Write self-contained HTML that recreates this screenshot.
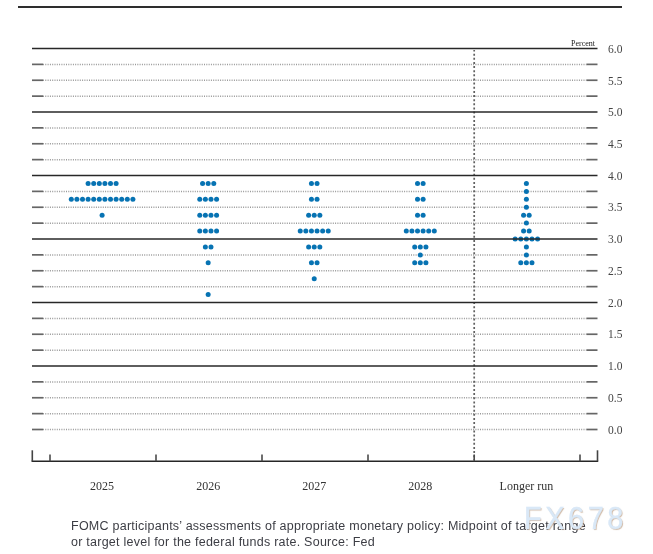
<!DOCTYPE html>
<html><head><meta charset="utf-8"><style>
html,body{margin:0;padding:0;background:#fff;}
body{width:653px;height:554px;position:relative;overflow:hidden;}
svg{position:absolute;left:0;top:0;}
*{-webkit-font-smoothing:antialiased;}
.cap,.wm,svg{will-change:transform;}
.yl{font-family:"Liberation Serif",serif;font-size:11.5px;fill:#444;}
.xl{font-family:"Liberation Serif",serif;font-size:12px;fill:#333;text-anchor:middle;}
.pc{font-family:"Liberation Serif",serif;font-size:8px;fill:#1a1a1a;text-anchor:end;}
circle{fill:#0773b3;}
.cap{position:absolute;left:70.6px;top:518px;width:600px;font-family:"Liberation Sans",sans-serif;font-size:12.5px;letter-spacing:0.245px;line-height:16px;color:#3c3d44;white-space:nowrap;}
.wm{position:absolute;left:524px;top:500px;font-family:"Liberation Sans",sans-serif;font-size:29px;letter-spacing:3.5px;color:#d9e8f7;-webkit-text-stroke:0.35px #d9e8f7;text-shadow:1px 1px 0.8px rgba(170,130,95,0.55);line-height:34px;transform:scaleY(1.1);transform-origin:0 7px;}
</style></head><body>
<svg width="653" height="554" viewBox="0 0 653 554">
<line x1="18" y1="7" x2="622" y2="7" stroke="#2e2e2e" stroke-width="1.8"/>
<text x="608" y="52.7" class="yl">6.0</text>
<line x1="43" y1="64.375" x2="586.5" y2="64.375" stroke="#9a9a9a" stroke-width="1.5" stroke-dasharray="1 1.3"/>
<line x1="32" y1="64.375" x2="43" y2="64.375" stroke="#666" stroke-width="1.7"/>
<line x1="586.5" y1="64.375" x2="597.5" y2="64.375" stroke="#666" stroke-width="1.7"/>
<line x1="43" y1="80.25" x2="586.5" y2="80.25" stroke="#9a9a9a" stroke-width="1.5" stroke-dasharray="1 1.3"/>
<line x1="32" y1="80.25" x2="43" y2="80.25" stroke="#666" stroke-width="1.7"/>
<line x1="586.5" y1="80.25" x2="597.5" y2="80.25" stroke="#666" stroke-width="1.7"/>
<text x="608" y="84.5" class="yl">5.5</text>
<line x1="43" y1="96.125" x2="586.5" y2="96.125" stroke="#9a9a9a" stroke-width="1.5" stroke-dasharray="1 1.3"/>
<line x1="32" y1="96.125" x2="43" y2="96.125" stroke="#666" stroke-width="1.7"/>
<line x1="586.5" y1="96.125" x2="597.5" y2="96.125" stroke="#666" stroke-width="1.7"/>
<text x="608" y="116.2" class="yl">5.0</text>
<line x1="43" y1="127.875" x2="586.5" y2="127.875" stroke="#9a9a9a" stroke-width="1.5" stroke-dasharray="1 1.3"/>
<line x1="32" y1="127.875" x2="43" y2="127.875" stroke="#666" stroke-width="1.7"/>
<line x1="586.5" y1="127.875" x2="597.5" y2="127.875" stroke="#666" stroke-width="1.7"/>
<line x1="43" y1="143.75" x2="586.5" y2="143.75" stroke="#9a9a9a" stroke-width="1.5" stroke-dasharray="1 1.3"/>
<line x1="32" y1="143.75" x2="43" y2="143.75" stroke="#666" stroke-width="1.7"/>
<line x1="586.5" y1="143.75" x2="597.5" y2="143.75" stroke="#666" stroke-width="1.7"/>
<text x="608" y="147.9" class="yl">4.5</text>
<line x1="43" y1="159.625" x2="586.5" y2="159.625" stroke="#9a9a9a" stroke-width="1.5" stroke-dasharray="1 1.3"/>
<line x1="32" y1="159.625" x2="43" y2="159.625" stroke="#666" stroke-width="1.7"/>
<line x1="586.5" y1="159.625" x2="597.5" y2="159.625" stroke="#666" stroke-width="1.7"/>
<text x="608" y="179.7" class="yl">4.0</text>
<line x1="43" y1="191.375" x2="586.5" y2="191.375" stroke="#9a9a9a" stroke-width="1.5" stroke-dasharray="1 1.3"/>
<line x1="32" y1="191.375" x2="43" y2="191.375" stroke="#666" stroke-width="1.7"/>
<line x1="586.5" y1="191.375" x2="597.5" y2="191.375" stroke="#666" stroke-width="1.7"/>
<line x1="43" y1="207.25" x2="586.5" y2="207.25" stroke="#9a9a9a" stroke-width="1.5" stroke-dasharray="1 1.3"/>
<line x1="32" y1="207.25" x2="43" y2="207.25" stroke="#666" stroke-width="1.7"/>
<line x1="586.5" y1="207.25" x2="597.5" y2="207.25" stroke="#666" stroke-width="1.7"/>
<text x="608" y="211.4" class="yl">3.5</text>
<line x1="43" y1="223.125" x2="586.5" y2="223.125" stroke="#9a9a9a" stroke-width="1.5" stroke-dasharray="1 1.3"/>
<line x1="32" y1="223.125" x2="43" y2="223.125" stroke="#666" stroke-width="1.7"/>
<line x1="586.5" y1="223.125" x2="597.5" y2="223.125" stroke="#666" stroke-width="1.7"/>
<text x="608" y="243.2" class="yl">3.0</text>
<line x1="43" y1="254.875" x2="586.5" y2="254.875" stroke="#9a9a9a" stroke-width="1.5" stroke-dasharray="1 1.3"/>
<line x1="32" y1="254.875" x2="43" y2="254.875" stroke="#666" stroke-width="1.7"/>
<line x1="586.5" y1="254.875" x2="597.5" y2="254.875" stroke="#666" stroke-width="1.7"/>
<line x1="43" y1="270.75" x2="586.5" y2="270.75" stroke="#9a9a9a" stroke-width="1.5" stroke-dasharray="1 1.3"/>
<line x1="32" y1="270.75" x2="43" y2="270.75" stroke="#666" stroke-width="1.7"/>
<line x1="586.5" y1="270.75" x2="597.5" y2="270.75" stroke="#666" stroke-width="1.7"/>
<text x="608" y="274.9" class="yl">2.5</text>
<line x1="43" y1="286.625" x2="586.5" y2="286.625" stroke="#9a9a9a" stroke-width="1.5" stroke-dasharray="1 1.3"/>
<line x1="32" y1="286.625" x2="43" y2="286.625" stroke="#666" stroke-width="1.7"/>
<line x1="586.5" y1="286.625" x2="597.5" y2="286.625" stroke="#666" stroke-width="1.7"/>
<text x="608" y="306.7" class="yl">2.0</text>
<line x1="43" y1="318.375" x2="586.5" y2="318.375" stroke="#9a9a9a" stroke-width="1.5" stroke-dasharray="1 1.3"/>
<line x1="32" y1="318.375" x2="43" y2="318.375" stroke="#666" stroke-width="1.7"/>
<line x1="586.5" y1="318.375" x2="597.5" y2="318.375" stroke="#666" stroke-width="1.7"/>
<line x1="43" y1="334.25" x2="586.5" y2="334.25" stroke="#9a9a9a" stroke-width="1.5" stroke-dasharray="1 1.3"/>
<line x1="32" y1="334.25" x2="43" y2="334.25" stroke="#666" stroke-width="1.7"/>
<line x1="586.5" y1="334.25" x2="597.5" y2="334.25" stroke="#666" stroke-width="1.7"/>
<text x="608" y="338.4" class="yl">1.5</text>
<line x1="43" y1="350.125" x2="586.5" y2="350.125" stroke="#9a9a9a" stroke-width="1.5" stroke-dasharray="1 1.3"/>
<line x1="32" y1="350.125" x2="43" y2="350.125" stroke="#666" stroke-width="1.7"/>
<line x1="586.5" y1="350.125" x2="597.5" y2="350.125" stroke="#666" stroke-width="1.7"/>
<text x="608" y="370.2" class="yl">1.0</text>
<line x1="43" y1="381.875" x2="586.5" y2="381.875" stroke="#9a9a9a" stroke-width="1.5" stroke-dasharray="1 1.3"/>
<line x1="32" y1="381.875" x2="43" y2="381.875" stroke="#666" stroke-width="1.7"/>
<line x1="586.5" y1="381.875" x2="597.5" y2="381.875" stroke="#666" stroke-width="1.7"/>
<line x1="43" y1="397.75" x2="586.5" y2="397.75" stroke="#9a9a9a" stroke-width="1.5" stroke-dasharray="1 1.3"/>
<line x1="32" y1="397.75" x2="43" y2="397.75" stroke="#666" stroke-width="1.7"/>
<line x1="586.5" y1="397.75" x2="597.5" y2="397.75" stroke="#666" stroke-width="1.7"/>
<text x="608" y="401.9" class="yl">0.5</text>
<line x1="43" y1="413.625" x2="586.5" y2="413.625" stroke="#9a9a9a" stroke-width="1.5" stroke-dasharray="1 1.3"/>
<line x1="32" y1="413.625" x2="43" y2="413.625" stroke="#666" stroke-width="1.7"/>
<line x1="586.5" y1="413.625" x2="597.5" y2="413.625" stroke="#666" stroke-width="1.7"/>
<line x1="43" y1="429.5" x2="586.5" y2="429.5" stroke="#9a9a9a" stroke-width="1.5" stroke-dasharray="1 1.3"/>
<line x1="32" y1="429.5" x2="43" y2="429.5" stroke="#666" stroke-width="1.7"/>
<line x1="586.5" y1="429.5" x2="597.5" y2="429.5" stroke="#666" stroke-width="1.7"/>
<text x="608" y="433.7" class="yl">0.0</text>
<line x1="474.2" y1="50" x2="474.2" y2="460" stroke="#606060" stroke-width="1.7" stroke-dasharray="2 2.14" stroke-dashoffset="0.5"/>
<line x1="31.6" y1="461.3" x2="598.2" y2="461.3" stroke="#262626" stroke-width="1.4"/>
<line x1="32.3" y1="450.3" x2="32.3" y2="461.3" stroke="#444" stroke-width="1.6"/>
<line x1="597.5" y1="450.3" x2="597.5" y2="461.3" stroke="#444" stroke-width="1.6"/>
<line x1="50" y1="454.5" x2="50" y2="461.3" stroke="#4a4a4a" stroke-width="1.6"/>
<line x1="156" y1="454.5" x2="156" y2="461.3" stroke="#4a4a4a" stroke-width="1.6"/>
<line x1="262" y1="454.5" x2="262" y2="461.3" stroke="#4a4a4a" stroke-width="1.6"/>
<line x1="368" y1="454.5" x2="368" y2="461.3" stroke="#4a4a4a" stroke-width="1.6"/>
<line x1="474.2" y1="454.5" x2="474.2" y2="461.3" stroke="#4a4a4a" stroke-width="1.6"/>
<line x1="580" y1="454.5" x2="580" y2="461.3" stroke="#4a4a4a" stroke-width="1.6"/>
<text x="102.1" y="489.7" class="xl">2025</text>
<text x="208.2" y="489.7" class="xl">2026</text>
<text x="314.2" y="489.7" class="xl">2027</text>
<text x="420.3" y="489.7" class="xl">2028</text>
<text x="526.4" y="489.7" class="xl">Longer run</text>
<text x="595" y="45.8" class="pc">Percent</text>
<circle cx="88.10" cy="183.44" r="2.5"/>
<circle cx="93.70" cy="183.44" r="2.5"/>
<circle cx="99.30" cy="183.44" r="2.5"/>
<circle cx="104.90" cy="183.44" r="2.5"/>
<circle cx="110.50" cy="183.44" r="2.5"/>
<circle cx="116.10" cy="183.44" r="2.5"/>
<circle cx="71.30" cy="199.31" r="2.5"/>
<circle cx="76.90" cy="199.31" r="2.5"/>
<circle cx="82.50" cy="199.31" r="2.5"/>
<circle cx="88.10" cy="199.31" r="2.5"/>
<circle cx="93.70" cy="199.31" r="2.5"/>
<circle cx="99.30" cy="199.31" r="2.5"/>
<circle cx="104.90" cy="199.31" r="2.5"/>
<circle cx="110.50" cy="199.31" r="2.5"/>
<circle cx="116.10" cy="199.31" r="2.5"/>
<circle cx="121.70" cy="199.31" r="2.5"/>
<circle cx="127.30" cy="199.31" r="2.5"/>
<circle cx="132.90" cy="199.31" r="2.5"/>
<circle cx="102.10" cy="215.19" r="2.5"/>
<circle cx="202.57" cy="183.44" r="2.5"/>
<circle cx="208.17" cy="183.44" r="2.5"/>
<circle cx="213.77" cy="183.44" r="2.5"/>
<circle cx="199.77" cy="199.31" r="2.5"/>
<circle cx="205.37" cy="199.31" r="2.5"/>
<circle cx="210.97" cy="199.31" r="2.5"/>
<circle cx="216.57" cy="199.31" r="2.5"/>
<circle cx="199.77" cy="215.19" r="2.5"/>
<circle cx="205.37" cy="215.19" r="2.5"/>
<circle cx="210.97" cy="215.19" r="2.5"/>
<circle cx="216.57" cy="215.19" r="2.5"/>
<circle cx="199.77" cy="231.06" r="2.5"/>
<circle cx="205.37" cy="231.06" r="2.5"/>
<circle cx="210.97" cy="231.06" r="2.5"/>
<circle cx="216.57" cy="231.06" r="2.5"/>
<circle cx="205.37" cy="246.94" r="2.5"/>
<circle cx="210.97" cy="246.94" r="2.5"/>
<circle cx="208.17" cy="262.81" r="2.5"/>
<circle cx="208.17" cy="294.56" r="2.5"/>
<circle cx="311.44" cy="183.44" r="2.5"/>
<circle cx="317.04" cy="183.44" r="2.5"/>
<circle cx="311.44" cy="199.31" r="2.5"/>
<circle cx="317.04" cy="199.31" r="2.5"/>
<circle cx="308.64" cy="215.19" r="2.5"/>
<circle cx="314.24" cy="215.19" r="2.5"/>
<circle cx="319.84" cy="215.19" r="2.5"/>
<circle cx="300.24" cy="231.06" r="2.5"/>
<circle cx="305.84" cy="231.06" r="2.5"/>
<circle cx="311.44" cy="231.06" r="2.5"/>
<circle cx="317.04" cy="231.06" r="2.5"/>
<circle cx="322.64" cy="231.06" r="2.5"/>
<circle cx="328.24" cy="231.06" r="2.5"/>
<circle cx="308.64" cy="246.94" r="2.5"/>
<circle cx="314.24" cy="246.94" r="2.5"/>
<circle cx="319.84" cy="246.94" r="2.5"/>
<circle cx="311.44" cy="262.81" r="2.5"/>
<circle cx="317.04" cy="262.81" r="2.5"/>
<circle cx="314.24" cy="278.69" r="2.5"/>
<circle cx="417.51" cy="183.44" r="2.5"/>
<circle cx="423.11" cy="183.44" r="2.5"/>
<circle cx="417.51" cy="199.31" r="2.5"/>
<circle cx="423.11" cy="199.31" r="2.5"/>
<circle cx="417.51" cy="215.19" r="2.5"/>
<circle cx="423.11" cy="215.19" r="2.5"/>
<circle cx="406.31" cy="231.06" r="2.5"/>
<circle cx="411.91" cy="231.06" r="2.5"/>
<circle cx="417.51" cy="231.06" r="2.5"/>
<circle cx="423.11" cy="231.06" r="2.5"/>
<circle cx="428.71" cy="231.06" r="2.5"/>
<circle cx="434.31" cy="231.06" r="2.5"/>
<circle cx="414.71" cy="246.94" r="2.5"/>
<circle cx="420.31" cy="246.94" r="2.5"/>
<circle cx="425.91" cy="246.94" r="2.5"/>
<circle cx="420.31" cy="254.88" r="2.5"/>
<circle cx="414.71" cy="262.81" r="2.5"/>
<circle cx="420.31" cy="262.81" r="2.5"/>
<circle cx="425.91" cy="262.81" r="2.5"/>
<circle cx="526.38" cy="183.44" r="2.5"/>
<circle cx="526.38" cy="191.38" r="2.5"/>
<circle cx="526.38" cy="199.31" r="2.5"/>
<circle cx="526.38" cy="207.25" r="2.5"/>
<circle cx="523.58" cy="215.19" r="2.5"/>
<circle cx="529.18" cy="215.19" r="2.5"/>
<circle cx="526.38" cy="223.12" r="2.5"/>
<circle cx="523.58" cy="231.06" r="2.5"/>
<circle cx="529.18" cy="231.06" r="2.5"/>
<circle cx="515.18" cy="239.00" r="2.5"/>
<circle cx="520.78" cy="239.00" r="2.5"/>
<circle cx="526.38" cy="239.00" r="2.5"/>
<circle cx="531.98" cy="239.00" r="2.5"/>
<circle cx="537.58" cy="239.00" r="2.5"/>
<circle cx="526.38" cy="246.94" r="2.5"/>
<circle cx="526.38" cy="254.88" r="2.5"/>
<circle cx="520.78" cy="262.81" r="2.5"/>
<circle cx="526.38" cy="262.81" r="2.5"/>
<circle cx="531.98" cy="262.81" r="2.5"/>
<line x1="32" y1="48.5" x2="597.5" y2="48.5" stroke="#282828" stroke-width="1.4"/>
<line x1="32" y1="112.0" x2="597.5" y2="112.0" stroke="#282828" stroke-width="1.4"/>
<line x1="32" y1="175.5" x2="597.5" y2="175.5" stroke="#282828" stroke-width="1.4"/>
<line x1="32" y1="239.0" x2="597.5" y2="239.0" stroke="#282828" stroke-width="1.4"/>
<line x1="32" y1="302.5" x2="597.5" y2="302.5" stroke="#282828" stroke-width="1.4"/>
<line x1="32" y1="366.0" x2="597.5" y2="366.0" stroke="#282828" stroke-width="1.4"/>
</svg>
<div class="cap">FOMC participants’ assessments of appropriate monetary policy: Midpoint of target range<br>or target level for the federal funds rate. Source: Fed</div>
<div class="wm">FX678</div>
</body></html>
